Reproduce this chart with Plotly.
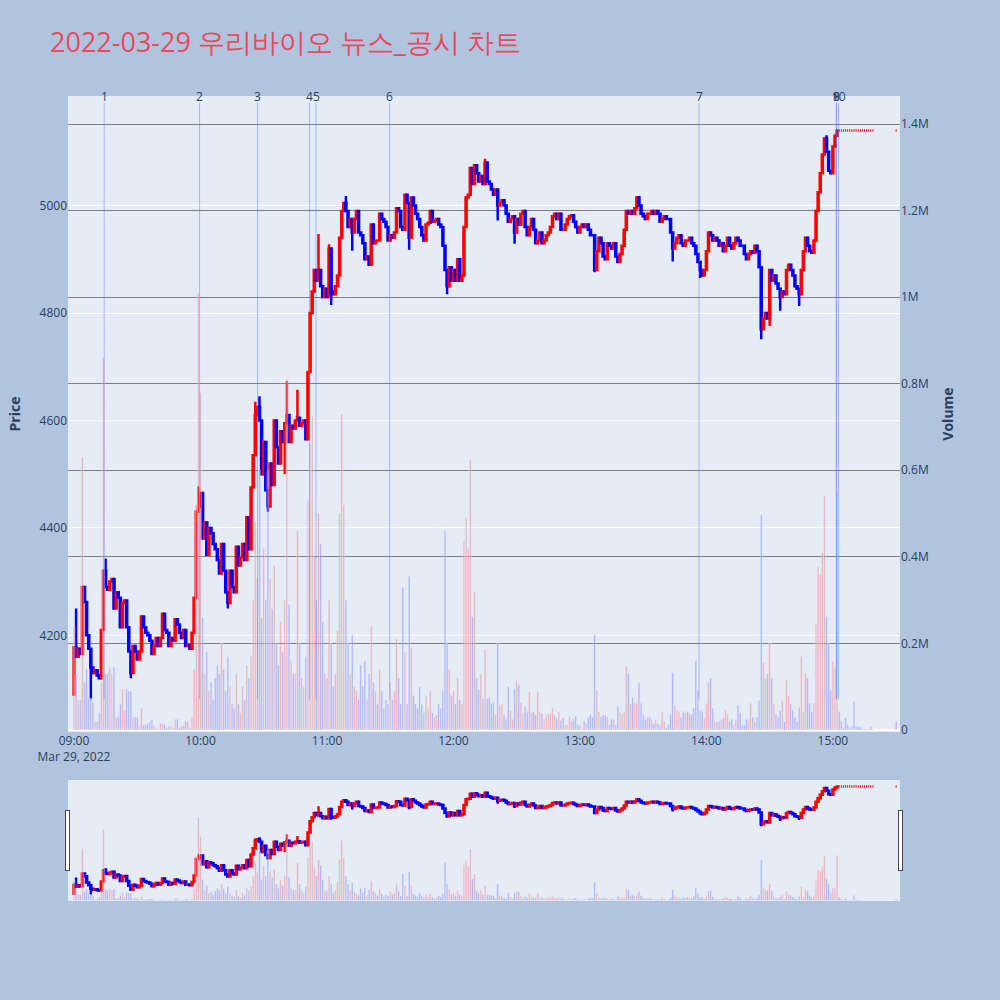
import pandas as pd
import plotly.graph_objects as go
from plotly.subplots import make_subplots

# 1-minute closes from 09:00 to 15:19, then the 15:30 closing auction
closes = [
    4178, 4160, 4175, 4165, 4290, 4262, 4200, 4175, 4140, 4130,
    4135, 4125, 4120, 4210, 4320, 4290, 4285, 4300, 4305, 4250,
    4280, 4270, 4215, 4260, 4265, 4215, 4170, 4130, 4180, 4170,
    4155, 4170, 4235, 4215, 4205, 4200, 4190, 4165, 4180, 4195,
    4180, 4195, 4240, 4210, 4205, 4180, 4195, 4190, 4230, 4220,
    4205, 4195, 4210, 4180, 4182, 4175, 4205, 4270, 4430, 4440,
    4465, 4380, 4410, 4350, 4400, 4390, 4370, 4360, 4340, 4315,
    4370, 4320, 4280, 4260, 4320, 4290, 4280, 4365, 4330, 4345,
    4370, 4340, 4420, 4360, 4475, 4535, 4610, 4625, 4600, 4500,
    4560, 4470, 4440, 4520, 4480, 4600, 4550, 4520, 4580, 4560,
    4595, 4610, 4560, 4590, 4585, 4600, 4605, 4590, 4595, 4600,
    4565, 4690, 4800, 4840, 4880, 4860, 4880, 4850, 4830, 4845,
    4830, 4920, 4840, 4835, 4850, 4870, 4940, 4990, 5005, 4990,
    4960, 4975, 4950, 4975, 4990, 4950, 4945, 4930, 4900, 4905,
    4890, 4965, 4930, 4935, 4935, 4985, 4975, 4970, 4960, 4935,
    4945, 4940, 4950, 4995, 4990, 4960, 4955, 5020, 5005, 4940,
    5015, 5000, 4985, 4975, 4960, 4945, 4935, 4965, 4968, 4990,
    4970, 4972, 4975, 4965, 4960, 4925, 4880, 4850, 4885, 4860,
    4880, 4860, 4900, 4860, 4870, 4960, 5015, 5020, 5070, 5040,
    5075, 5060, 5045, 5055, 5040, 5080, 5045, 5040, 5030, 5020,
    5030, 5000, 5005, 5010, 5000, 4985, 4970, 4975, 4980, 4950,
    4975, 4965, 4985, 4990, 4960, 4945, 4960, 4975, 4955, 4930,
    4935, 4950, 4930, 4935, 4945, 4950, 4960, 4980, 4985, 4975,
    4985, 4955, 4955, 4965, 4975, 4980, 4982, 4970, 4960, 4950,
    4960, 4965, 4960, 4965, 4955, 4945, 4945, 4880, 4915, 4940,
    4930, 4905, 4900, 4930, 4925, 4920, 4930, 4905, 4895, 4910,
    4925, 4955, 4990, 4985, 4990, 4985, 4995, 5015, 5000, 4985,
    4980, 4975, 4985, 4985, 4990, 4985, 4990, 4985, 4970, 4975,
    4980, 4975, 4975, 4950, 4920, 4930, 4940, 4945, 4930, 4925,
    4935, 4935, 4940, 4930, 4925, 4910, 4895, 4880, 4870, 4880,
    4915, 4950, 4945, 4935, 4940, 4935, 4925, 4930, 4915, 4925,
    4940, 4925, 4920, 4930, 4940, 4935, 4925, 4925, 4910, 4900,
    4910, 4915, 4912, 4925, 4915, 4885, 4770, 4790, 4800, 4790,
    4880, 4860, 4870, 4855, 4845, 4830, 4840, 4835, 4880, 4890,
    4880, 4870, 4850, 4845, 4835, 4880, 4915, 4940, 4925, 4915,
    4912, 4935, 4990, 5025, 5060, 5095, 5125, 5100, 5065, 5060,
    5110, 5130, 5140, 5140, 5140, 5140, 5140, 5140, 5140, 5140,
    5140, 5140, 5140, 5140, 5140, 5140, 5140, 5140, 5140, 5140,
    5140,
]
first_open = 4090

# wick extremes that stick out of the bodies (minute index -> price)
wick_high = {1: 4250, 15: 4343, 59: 4477, 86: 4635, 88: 4645, 101: 4673, 106: 4657,
             116: 4947, 121: 4928, 129: 5018, 195: 5087, 268: 5018, 357: 5131}
wick_low = {8: 4081, 27: 4120, 73: 4250, 92: 4430, 100: 4500, 122: 4815, 132: 4916,
            159: 4918, 177: 4835, 201: 4972, 209: 4929, 247: 4876, 284: 4896,
            297: 4865, 326: 4751, 330: 4776, 335: 4804, 344: 4813}

# volume per minute, thousands of shares
volume_k = [
    240, 128, 70, 70, 630, 110, 140, 73, 73, 65,
    20, 20, 40, 110, 860, 130, 130, 145, 130, 145,
    30, 30, 60, 95, 45, 95, 90, 90, 30, 30,
    30, 10, 50, 12, 12, 15, 20, 25, 10, 5,
    3, 15, 15, 12, 5, 8, 10, 5, 25, 25,
    5, 8, 10, 20, 20, 5, 30, 140, 520, 1010,
    780, 260, 130, 180, 90, 110, 70, 120, 150, 130,
    200, 140, 90, 170, 100, 60, 50, 130, 60, 40,
    100, 70, 150, 120, 170, 300, 480, 350, 600, 260,
    420, 300, 600, 350, 280, 380, 200, 150, 250, 180,
    300, 810, 290, 160, 130, 130, 460, 200, 120, 100,
    170, 530, 660, 725, 400, 300, 500, 430, 250, 130,
    120, 300, 200, 100, 130, 230, 500, 730, 520, 300,
    200, 130, 220, 100, 90, 70, 150, 100, 160, 70,
    130, 240, 110, 90, 60, 140, 90, 50, 70, 60,
    110, 70, 90, 210, 120, 60, 330, 180, 60, 355,
    190, 80, 60, 50, 100, 60, 40, 80, 50, 90,
    40, 30, 35, 60, 50, 90, 460, 200, 140, 80,
    90, 60, 120, 70, 60, 436, 490, 420, 625, 262,
    318, 120, 93, 130, 73, 187, 73, 75, 62, 63,
    35, 200, 58, 62, 35, 25, 100, 45, 25, 95,
    115, 105, 63, 40, 55, 42, 88, 40, 42, 35,
    88, 42, 38, 25, 35, 38, 38, 50, 35, 28,
    42, 22, 28, 12, 12, 30, 20, 25, 32, 12,
    12, 2, 20, 15, 28, 35, 30, 222, 92, 42,
    30, 35, 34, 30, 12, 25, 24, 12, 55, 42,
    38, 42, 148, 130, 60, 75, 63, 63, 110, 62,
    35, 24, 30, 30, 25, 15, 24, 15, 12, 42,
    20, 5, 12, 36, 133, 56, 45, 43, 30, 42,
    38, 43, 38, 36, 52, 160, 92, 45, 43, 28,
    62, 110, 120, 50, 20, 18, 20, 24, 28, 46,
    36, 20, 25, 12, 24, 58, 40, 12, 12, 25,
    24, 62, 30, 20, 30, 68, 497, 155, 120, 130,
    200, 120, 60, 36, 30, 45, 68, 20, 115, 78,
    60, 46, 30, 20, 52, 170, 42, 130, 120, 62,
    42, 62, 245, 377, 360, 410, 542, 262, 200, 92,
    158, 145, 550, 43, 20, 5, 28, 12, 5, 8,
    65, 10, 8, 8, 2, 2, 2, 2, 8, 2,
    20,
]

price_ticks = [4200, 4400, 4600, 4800, 5000]

# news / disclosure times
news_labels = ['1', '2', '3', '4', '5', '6', '7', '8', '9', '10']
news_times = ['09:14:20', '09:59:35', '10:27:05', '10:51:45', '10:54:50',
              '11:29:45', '13:56:30', '15:01:40', '15:01:40', '15:02:40']

day = '2022-03-29'
times = list(pd.date_range(f'{day} 09:00', periods=len(closes) - 1, freq='min'))
times.append(pd.Timestamp(f'{day} 15:30'))

opens = [first_open] + closes[:-1]
highs = [max(o, c) for o, c in zip(opens, closes)]
lows = [min(o, c) for o, c in zip(opens, closes)]
for i, v in wick_high.items():
    highs[i] = v
for i, v in wick_low.items():
    lows[i] = v
volumes = [v * 1000 for v in volume_k]
vol_colors = ['rgba(255,0,0,0.25)' if c > o else 'rgba(0,0,255,0.25)'
              for o, c in zip(opens, closes)]

fig = make_subplots(specs=[[{"secondary_y": True}]])
fig.add_trace(go.Candlestick(
    x=times, open=opens, high=highs, low=lows, close=closes,
    increasing=dict(line=dict(color='red', width=2.5), fillcolor='red'),
    decreasing=dict(line=dict(color='blue', width=2.5), fillcolor='blue'),
    showlegend=False, name='Price'), secondary_y=False)
fig.add_trace(go.Bar(
    x=times, y=volumes, marker_color=vol_colors, showlegend=False, name='Volume'),
    secondary_y=True)

# vertical news markers
y_low = min(lows)
y_top = max(highs) * 1.01
for lab, t in zip(news_labels, news_times):
    ts = f'{day} {t}'
    fig.add_shape(type='line', x0=ts, x1=ts, y0=y_low, y1=y_top, xref='x', yref='y',
                  line=dict(color='rgba(80,110,240,0.42)', width=1))
    fig.add_annotation(x=ts, y=y_top, text=lab, showarrow=False, yanchor='bottom',
                       yshift=-4, xref='x', yref='y', font=dict(size=12, color='#2a3f5f'))

fig.update_layout(
    width=1000, height=1000,
    paper_bgcolor='lightsteelblue',
    title=dict(text='2022-03-29 우리바이오 뉴스_공시 차트', x=0.05, y=0.967,
               font=dict(size=27, color='#E84A5F')),
    margin=dict(l=68, r=100, t=96, b=100),
    bargap=0.2,
    xaxis=dict(domain=[0, 1], range=[f'{day} 08:57:10', f'{day} 15:31:50'], showgrid=False,
               rangeslider=dict(visible=True, thickness=0.15)),
)
fig.update_yaxes(title_text='<b>Price</b>', range=[4020, 5204], tickvals=price_ticks,
                 secondary_y=False)
fig.update_yaxes(title_text='<b>Volume</b>', range=[-4600, 1464700], showgrid=True,
                 gridcolor='gray', secondary_y=True)

fig.write_html('out.html', config={'displayModeBar': False},
               post_script="document.body.style.margin='0';document.body.style.overflow='hidden';")
